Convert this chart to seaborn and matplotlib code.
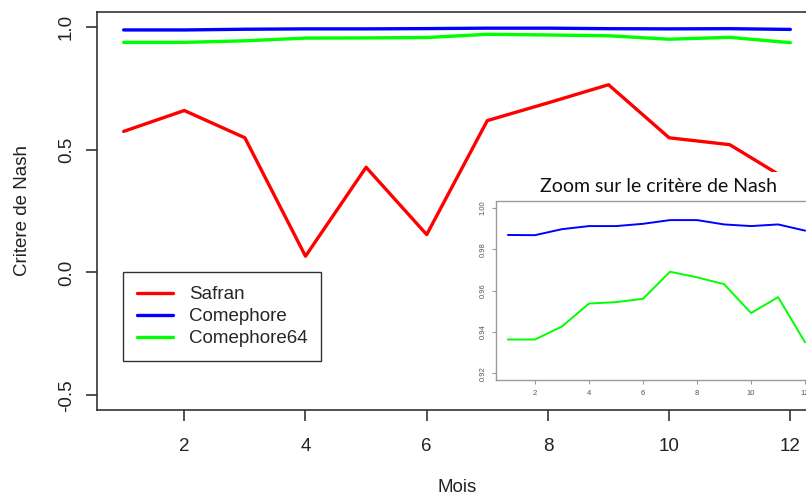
import numpy as np
import pandas as pd
import matplotlib
matplotlib.use("Agg")
import matplotlib.pyplot as plt
from matplotlib.lines import Line2D
from matplotlib.patches import Rectangle
import seaborn as sns

# Donnees
mois = [1, 2, 3, 4, 5, 6, 7, 8, 9, 10, 11, 12]
safran = [0.574, 0.659, 0.548, 0.066, 0.428, 0.154, 0.618, 0.690, 0.764, 0.548, 0.520, 0.370]
comephore = [0.9870, 0.9869, 0.9898, 0.9913, 0.9913, 0.9924, 0.9942, 0.9942, 0.9921, 0.9913, 0.9921, 0.9891]
comephore64 = [0.9364, 0.9364, 0.9427, 0.9538, 0.9545, 0.9561, 0.9692, 0.9665, 0.9632, 0.9492, 0.9569, 0.9350]
series = ["Safran", "Comephore", "Comephore64"]
couleurs = {"Safran": "#ff0000", "Comephore": "#0000ff", "Comephore64": "#00ff00"}

df = pd.concat([
    pd.DataFrame({"Mois": mois, "Nash": vals, "Serie": nom})
    for nom, vals in zip(series, [safran, comephore, comephore64])
], ignore_index=True)

sns.set_style("white")
plt.rcParams["font.family"] = ["Liberation Sans", "DejaVu Sans"]

fig = plt.figure(figsize=(8.06, 4.97), dpi=100)

# graphique principal
ax = fig.add_axes([97 / 806, 1 - 410 / 497, 720 / 806, 398 / 497])
sns.lineplot(data=df, x="Mois", y="Nash", hue="Serie", hue_order=series,
             palette=couleurs, linewidth=2.4, errorbar=None, legend=False, ax=ax)
ax.set_xlim(0.56, 12.44)
ax.set_ylim(-0.56, 1.06)
ax.set_xticks([2, 4, 6, 8, 10, 12])
ax.set_yticks([-0.5, 0.0, 0.5, 1.0])
ax.set_yticklabels(["-0.5", "0.0", "0.5", "1.0"])
for s in ax.spines.values():
    s.set_visible(True)
    s.set_color("#333333")
    s.set_linewidth(1.2)
ax.tick_params(axis="both", direction="out", length=7.9, width=1.2,
               color="#333333", labelsize=13.5, labelcolor="#222222",
               bottom=True, left=True)
ax.tick_params(axis="x", pad=12)
ax.tick_params(axis="y", pad=8, labelrotation=90)
for lab in ax.get_yticklabels():
    lab.set_va("center")
ax.set_xlabel("Mois", fontsize=13.5, color="#222222")
ax.set_ylabel("Critere de Nash", fontsize=13.5, color="#222222")
ax.xaxis.set_label_coords(0.5, -0.1935)
ax.xaxis.label.set_va("center")
ax.yaxis.set_label_coords(-0.104, 0.5)
ax.yaxis.label.set_va("center")

handles = [Line2D([], [], color=couleurs[n], linewidth=2.4) for n in series]
leg = ax.legend(handles, series, loc="upper left", bbox_to_anchor=(0.0361, 0.3467),
                borderaxespad=0, fontsize=13.5, handlelength=1.9, handletextpad=0.85,
                borderpad=0.75, labelspacing=0.26, fancybox=False, framealpha=1,
                edgecolor="#333333")
leg.get_frame().set_linewidth(1.0)

# cache blanc sous l'encart
fig.patches.append(Rectangle((476 / 806, 1 - 402 / 497), 330 / 806, 230 / 497,
                             transform=fig.transFigure, facecolor="white",
                             edgecolor="none", zorder=1))

# encart zoom
axin = fig.add_axes([496 / 806, 1 - 380 / 497, 321 / 806, 178.5 / 497])
axin.set_zorder(2)
sns.lineplot(data=df[df["Serie"] != "Safran"], x="Mois", y="Nash", hue="Serie",
             hue_order=series[1:], palette=couleurs, linewidth=1.4,
             errorbar=None, legend=False, ax=axin)
axin.set_xlim(0.56, 12.44)
axin.set_ylim(0.9168, 1.0032)
axin.set_xticks([2, 4, 6, 8, 10, 12])
axin.set_yticks([0.92, 0.94, 0.96, 0.98, 1.00])
axin.set_yticklabels(["0.92", "0.94", "0.96", "0.98", "1.00"])
axin.set_xlabel("")
axin.set_ylabel("")
for s in axin.spines.values():
    s.set_visible(True)
    s.set_color("#9a9a9a")
    s.set_linewidth(1.0)
axin.tick_params(axis="both", direction="out", length=2.9, width=0.8,
                 color="#9a9a9a", labelsize=5.5, labelcolor="#555555", pad=4,
                 bottom=True, left=True)
axin.tick_params(axis="y", labelrotation=90)
for lab in axin.get_yticklabels():
    lab.set_va("center")

fig.text(658 / 806, 1 - 191.5 / 497, "Zoom sur le critère de Nash",
         ha="center", va="baseline", fontsize=14, family=["Lato", "DejaVu Sans"],
         color="#111111", zorder=3)

fig.savefig("out.png", dpi=100)
